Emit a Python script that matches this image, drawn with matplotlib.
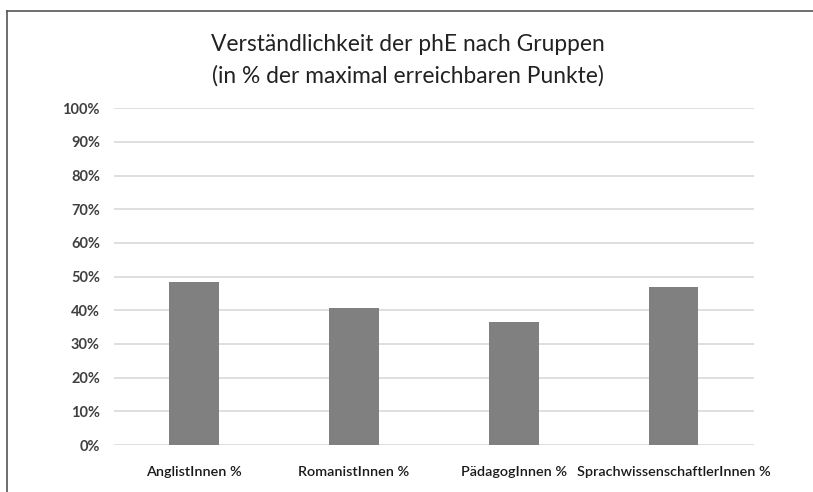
import matplotlib.pyplot as plt
import numpy as np

# data
groups = ["AnglistInnen %", "RomanistInnen %", "PädagogInnen %", "SprachwissenschaftlerInnen %"]
values = [48.4, 40.6, 36.4, 47.0]
y_ticks = [0, 10, 20, 30, 40, 50, 60, 70, 80, 90, 100]

plt.rcParams['font.family'] = ['Lato', 'DejaVu Sans']

fig = plt.figure(figsize=(8.13, 4.92), dpi=100)
ax = fig.add_axes([0.140, 0.0955, 0.787, 0.6845])

x = np.arange(len(groups))
ax.bar(x, values, width=0.31, color="#808080", zorder=3)

ax.set_xlim(-0.5, len(groups) - 0.5)
ax.set_ylim(0, 100)
ax.set_yticks(y_ticks)
ax.set_yticklabels([f"{t}%" for t in y_ticks], fontsize=10.5, fontweight="bold", color="#404040")
ax.set_xticks(x)
ax.set_xticklabels(groups, fontsize=10.4, fontweight="semibold", color="#1a1a1a")
ax.tick_params(axis="y", length=0, pad=10)
ax.tick_params(axis="x", length=0, pad=15)

ax.grid(axis="y", color="#d9d9d9", linewidth=1.2, zorder=0)
for s in ax.spines.values():
    s.set_visible(False)

fig.text(0.502, 0.877, "Verständlichkeit der phE nach Gruppen\n(in % der maximal erreichbaren Punkte)",
         ha="center", va="center", fontsize=16.4, color="#222222", linespacing=1.6)

# outer frame (top and left only)
fig.add_artist(plt.Line2D([0.008, 1.0], [0.978, 0.978], color="#555555", linewidth=1.2))
fig.add_artist(plt.Line2D([0.008, 0.008], [0.0, 0.978], color="#555555", linewidth=1.2))

fig.savefig("out.png", dpi=100)
